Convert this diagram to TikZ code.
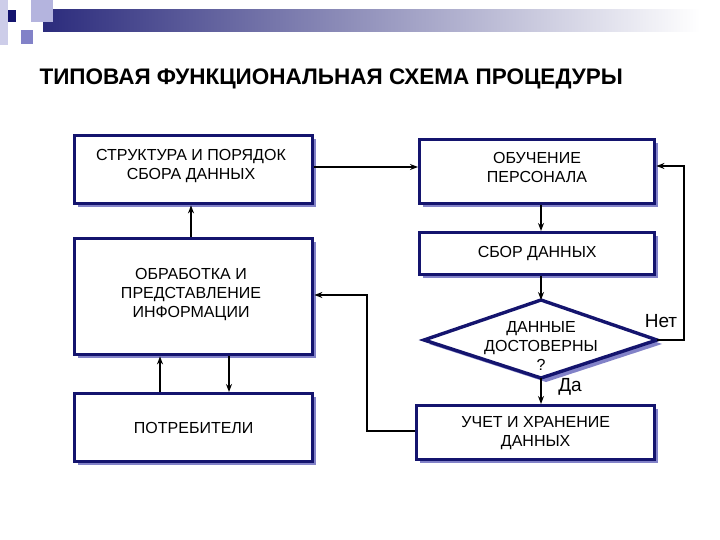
\documentclass[tikz,border=0pt]{standalone}
\usepackage{fontspec}
\setmainfont{Liberation Sans}
\usetikzlibrary{arrows.meta,shapes.geometric}
\definecolor{navy}{RGB}{20,20,110}
\definecolor{shad}{RGB}{130,130,200}
\begin{document}
\begin{tikzpicture}[x=1pt,y=-1pt,
  box/.style={draw=navy,line width=3.4pt,fill=white,align=center,font=\fontsize{16}{19}\selectfont,inner sep=0pt},
  lbl/.style={align=center,font=\fontsize{16}{19}\selectfont},
  shd/.style={fill=shad},
  arr/.style={-{Stealth[length=8pt,width=6pt]},line width=1.4pt}]
\useasboundingbox (0,0) rectangle (720,540);
% header decoration
\shade[left color=navy!90,right color=white] (43,10) rectangle (700,32);
\fill[shad!40] (0,0) rectangle (8,45);
\fill[shad!60] (31,0) rectangle (53,22);
\fill[shad] (21,30) rectangle (33,44);
\fill[navy] (8,10) rectangle (16,22);
\node[font=\bfseries\fontsize{22.5}{26}\selectfont,anchor=west] (t) at (36,79) {ТИПОВАЯ ФУНКЦИОНАЛЬНАЯ СХЕМА ПРОЦЕДУРЫ};
% shadows
\fill[shd] (78,139) rectangle (316,207);
\fill[shd] (423,143) rectangle (658,207);
\fill[shd] (423,236) rectangle (658,278);
\fill[shd] (78,242) rectangle (316,358);
\fill[shd] (78,397) rectangle (316,465);
\fill[shd] (420,409) rectangle (658,463);
\fill[shd] (429,344) -- (546,304) -- (662,344) -- (546,382) -- cycle;
% boxes
\node[box,minimum width=238pt,minimum height=68pt,anchor=north west] (A) at (73,134) {};
\node[lbl] (At) at (191,166) {СТРУКТУРА И ПОРЯДОК\\СБОРА ДАННЫХ};
\node[box,minimum width=235pt,minimum height=64pt,anchor=north west] (B) at (418,138) {};
\node[lbl] (Bt) at (537,167) {ОБУЧЕНИЕ\\ПЕРСОНАЛА};
\node[box,minimum width=235pt,minimum height=42pt,anchor=north west] (C) at (418,231) {СБОР ДАННЫХ};
\node[box,minimum width=238pt,minimum height=116pt,anchor=north west] (D) at (73,237) {};
\node[lbl] (Dt2) at (191,295) {ОБРАБОТКА И\\ПРЕДСТАВЛЕНИЕ\\ИНФОРМАЦИИ};
\node[box,minimum width=238pt,minimum height=68pt,anchor=north west] (E) at (73,392) {ПОТРЕБИТЕЛИ};
\node[box,minimum width=238pt,minimum height=54pt,anchor=north west] (F) at (415,404) {УЧЕТ И ХРАНЕНИЕ\\ДАННЫХ};
\path[draw=navy,line width=3.4pt,fill=white] (424,340) -- (541,300) -- (657,340) -- (541,378) -- cycle;
\coordinate (Dt) at (541,300); \coordinate (Db) at (541,378); \coordinate (Dr) at (657,340);
\node[lbl] (Q) at (541,346) {ДАННЫЕ\\ДОСТОВЕРНЫ\\?};
\node[font=\fontsize{19}{21}\selectfont] (yes) at (570,387) {Да};
\node[font=\fontsize{19}{21}\selectfont] (no) at (661,321) {Нет};
% connectors
\draw[arr] (A.east|-0,167) -- (B.west|-0,167);
\draw[arr] (B.south-|541,0) -- (C.north-|541,0);
\draw[arr] (C.south-|541,0) -- (Dt);
\draw[arr] (Dr) -- (684,340) -- (684,166) -- (B.east|-0,166);
\draw[arr] (Db) -- (F.north-|541,0);
\draw[arr] (F.west|-0,431) -- (367,431) -- (367,295) -- (D.east|-0,295);
\draw[arr] (D.north-|191,0) -- (A.south-|191,0);
\draw[arr] (E.north-|160,0) -- (D.south-|160,0);
\draw[arr] (D.south-|229,0) -- (E.north-|229,0);
\end{tikzpicture}
\end{document}
